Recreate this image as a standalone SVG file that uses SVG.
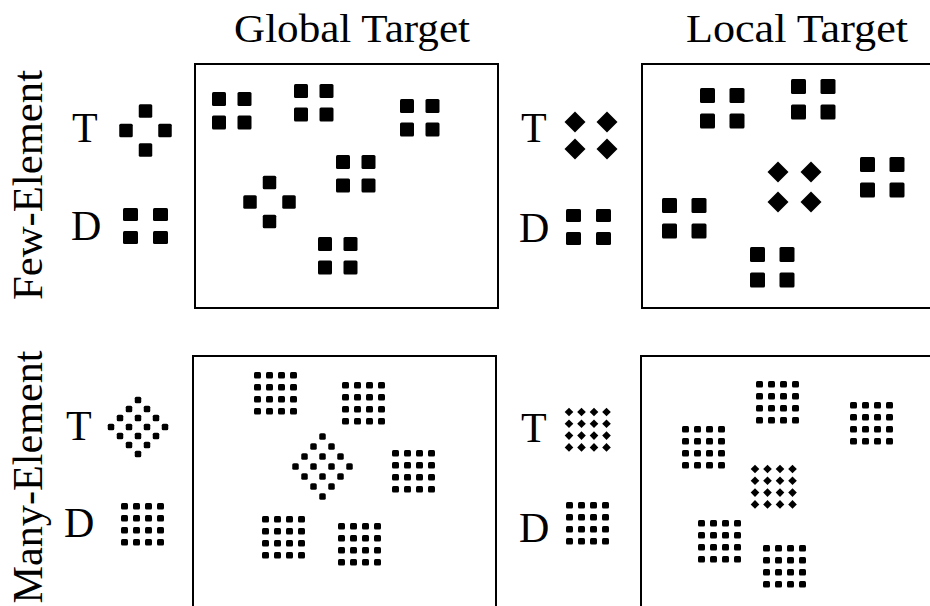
<svg xmlns="http://www.w3.org/2000/svg" width="930" height="606" viewBox="0 0 930 606">
<style>
.t{font-family:"Liberation Serif","Times New Roman",serif;fill:#000}
.lab{font-size:42px}
.hd{font-size:40px}
.fr{fill:none;stroke:#000;stroke-width:2}
rect.s{fill:#000}
</style>
<defs>
<rect id="s14" class="s" width="14" height="14" rx="1.5" fill="#000"/>
<rect id="s15" class="s" width="15" height="15" rx="1.5" fill="#000"/>
<rect id="s13" class="s" width="13.5" height="13.5" rx="1.5" fill="#000"/>
<rect id="sd" class="s" width="15" height="13" rx="1.5" fill="#000"/>
<path id="dm" d="M0,-10.5L10.5,0L0,10.5L-10.5,0Z" fill="#000"/>
<path id="sdm" d="M0,-4.3L4.3,0L0,4.3L-4.3,0Z" fill="#000"/>
<rect id="dt" width="6.5" height="6.5" x="-3.25" y="-3.25" rx="1.6" fill="#000"/>
<g id="qg">
<use href="#s14" x="0" y="0"/><use href="#s14" x="25.5" y="0"/>
<use href="#s14" x="0" y="23.5"/><use href="#s14" x="25.5" y="23.5"/>
</g>
<g id="ql">
<use href="#s15" x="0" y="0"/><use href="#s15" x="29.5" y="0"/>
<use href="#s15" x="0" y="25.5"/><use href="#s15" x="29.5" y="25.5"/>
</g>
<g id="dq">
<use href="#sd" x="0" y="0"/><use href="#sd" x="30" y="0"/>
<use href="#sd" x="0" y="23"/><use href="#sd" x="30" y="23"/>
</g>
<g id="cross">
<use href="#s13" x="-6.75" y="-26.25"/>
<use href="#s13" x="-26.25" y="-6.75"/>
<use href="#s13" x="12.75" y="-6.75"/>
<use href="#s13" x="-6.75" y="12.75"/>
</g>
<g id="g16" fill="#000">
<rect x="0" y="0" width="7" height="6.5" rx="1.5"/><rect x="12" y="0" width="7" height="6.5" rx="1.5"/><rect x="24" y="0" width="7" height="6.5" rx="1.5"/><rect x="36" y="0" width="7" height="6.5" rx="1.5"/>
<rect x="0" y="12" width="7" height="6.5" rx="1.5"/><rect x="12" y="12" width="7" height="6.5" rx="1.5"/><rect x="24" y="12" width="7" height="6.5" rx="1.5"/><rect x="36" y="12" width="7" height="6.5" rx="1.5"/>
<rect x="0" y="24" width="7" height="6.5" rx="1.5"/><rect x="12" y="24" width="7" height="6.5" rx="1.5"/><rect x="24" y="24" width="7" height="6.5" rx="1.5"/><rect x="36" y="24" width="7" height="6.5" rx="1.5"/>
<rect x="0" y="36" width="7" height="6.5" rx="1.5"/><rect x="12" y="36" width="7" height="6.5" rx="1.5"/><rect x="24" y="36" width="7" height="6.5" rx="1.5"/><rect x="36" y="36" width="7" height="6.5" rx="1.5"/>
</g>
<g id="rdT">
<use href="#dt" x="0" y="-27"/>
<use href="#dt" x="9" y="-18"/><use href="#dt" x="-9" y="-18"/>
<use href="#dt" x="18" y="-9"/><use href="#dt" x="0" y="-9"/><use href="#dt" x="-18" y="-9"/>
<use href="#dt" x="27" y="0"/><use href="#dt" x="9" y="0"/><use href="#dt" x="-9" y="0"/><use href="#dt" x="-27" y="0"/>
<use href="#dt" x="18" y="9"/><use href="#dt" x="0" y="9"/><use href="#dt" x="-18" y="9"/>
<use href="#dt" x="9" y="18"/><use href="#dt" x="-9" y="18"/>
<use href="#dt" x="0" y="27"/>
</g>
<g id="rdG">
<use href="#dt" x="0" y="-30"/>
<use href="#dt" x="9" y="-20"/><use href="#dt" x="-9" y="-20"/>
<use href="#dt" x="18" y="-10"/><use href="#dt" x="0" y="-10"/><use href="#dt" x="-18" y="-10"/>
<use href="#dt" x="27" y="0"/><use href="#dt" x="9" y="0"/><use href="#dt" x="-9" y="0"/><use href="#dt" x="-27" y="0"/>
<use href="#dt" x="18" y="10"/><use href="#dt" x="0" y="10"/><use href="#dt" x="-18" y="10"/>
<use href="#dt" x="9" y="20"/><use href="#dt" x="-9" y="20"/>
<use href="#dt" x="0" y="30"/>
</g>
<g id="dg">
<use href="#sdm" x="0" y="0"/><use href="#sdm" x="12.5" y="0"/><use href="#sdm" x="25" y="0"/><use href="#sdm" x="37.5" y="0"/>
<use href="#sdm" x="0" y="11.8"/><use href="#sdm" x="12.5" y="11.8"/><use href="#sdm" x="25" y="11.8"/><use href="#sdm" x="37.5" y="11.8"/>
<use href="#sdm" x="0" y="23.6"/><use href="#sdm" x="12.5" y="23.6"/><use href="#sdm" x="25" y="23.6"/><use href="#sdm" x="37.5" y="23.6"/>
<use href="#sdm" x="0" y="35.4"/><use href="#sdm" x="12.5" y="35.4"/><use href="#sdm" x="25" y="35.4"/><use href="#sdm" x="37.5" y="35.4"/>
</g>
</defs>
<rect width="930" height="606" fill="#fff"/>

<g id="headers">
<text class="t hd" x="234" y="42" textLength="236" lengthAdjust="spacingAndGlyphs">Global Target</text>
<text class="t hd" x="686" y="42" textLength="222" lengthAdjust="spacingAndGlyphs">Local Target</text>
<text class="t lab" transform="translate(42,185) rotate(-90)" text-anchor="middle" textLength="230" lengthAdjust="spacingAndGlyphs">Few-Element</text>
<text class="t lab" transform="translate(42,477) rotate(-90)" text-anchor="middle" textLength="253" lengthAdjust="spacingAndGlyphs">Many-Element</text>
</g>

<g id="few-global">
<text class="t lab" x="72" y="142">T</text>
<use href="#cross" x="145.5" y="130.5"/>
<text class="t lab" x="71" y="240">D</text>
<use href="#dq" x="123" y="208"/>
<rect class="fr" x="195" y="64" width="303" height="244"/>
<use href="#qg" x="212" y="92"/>
<use href="#qg" x="294" y="84"/>
<use href="#qg" x="400" y="99"/>
<use href="#qg" x="336" y="155"/>
<use href="#cross" x="269.5" y="202"/>
<use href="#qg" x="318" y="237"/>
</g>

<g id="few-local">
<text class="t lab" x="521" y="142">T</text>
<use href="#dm" x="575" y="122"/><use href="#dm" x="607" y="122"/>
<use href="#dm" x="575" y="149"/><use href="#dm" x="607" y="149"/>
<text class="t lab" x="519" y="242">D</text>
<use href="#dq" x="566" y="209"/>
<rect class="fr" x="642" y="64" width="300" height="244"/>
<use href="#ql" x="700" y="88"/>
<use href="#ql" x="791" y="79"/>
<use href="#ql" x="860" y="157"/>
<use href="#ql" x="662" y="198"/>
<use href="#ql" x="750" y="247"/>
<use href="#dm" x="778" y="172"/><use href="#dm" x="811" y="172"/>
<use href="#dm" x="778" y="202"/><use href="#dm" x="811" y="202"/>
</g>

<g id="many-global">
<text class="t lab" x="66" y="440">T</text>
<use href="#rdT" x="138" y="427"/>
<text class="t lab" x="64" y="537">D</text>
<use href="#g16" x="121" y="503"/>
<rect class="fr" x="193" y="356" width="303" height="270"/>
<use href="#g16" x="254" y="372"/>
<use href="#g16" x="342" y="382"/>
<use href="#rdG" x="322.5" y="466.5"/>
<use href="#g16" x="392" y="450"/>
<use href="#g16" x="262" y="516"/>
<use href="#g16" x="338" y="523"/>
</g>

<g id="many-local">
<text class="t lab" x="521" y="442">T</text>
<use href="#dg" x="569" y="412"/>
<text class="t lab" x="519" y="542">D</text>
<use href="#g16" x="566" y="502"/>
<rect class="fr" x="641" y="356" width="300" height="270"/>
<use href="#g16" x="756" y="381"/>
<use href="#g16" x="850" y="402"/>
<use href="#g16" x="682" y="426"/>
<use href="#dg" x="755" y="469"/>
<use href="#g16" x="698" y="520"/>
<use href="#g16" x="763" y="545"/>
</g>

<g id="connectors"></g>
</svg>
